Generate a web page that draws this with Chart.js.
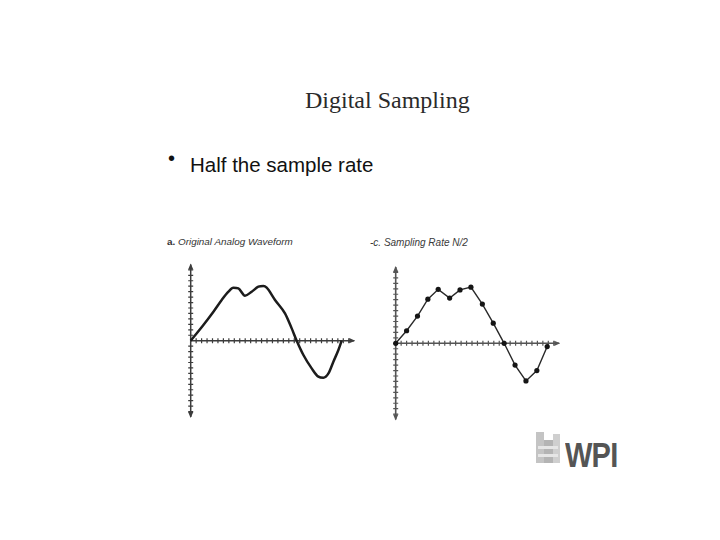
<!DOCTYPE html>
<html>
<head>
<meta charset="utf-8">
<script src="https://cdn.jsdelivr.net/npm/chart.js@4.4.1/dist/chart.umd.min.js"></script>
<style>
  html, body { margin:0; padding:0; background:#fff; }
  body { width:720px; height:540px; position:relative; overflow:hidden; }
  .t { position:absolute; white-space:nowrap; line-height:1; }
  canvas { position:absolute; }
</style>
</head>
<body>
<div class="t" style="left:305px;top:87px;font:24px 'Liberation Serif',serif;color:#2a2a2a;">Digital Sampling</div>
<div class="t" style="left:168px;top:147px;font:20px 'Liberation Sans',sans-serif;color:#111;">•</div>
<div class="t" style="left:190px;top:153px;font:20.5px 'Liberation Sans',sans-serif;color:#111;">Half the sample rate</div>
<div class="t" style="left:167px;top:236px;font:italic 9.9px 'Liberation Sans',sans-serif;color:#333;"><b style="font-style:normal">a.</b> Original Analog Waveform</div>
<div class="t" style="left:370px;top:237px;font:italic 10px 'Liberation Sans',sans-serif;color:#3a3a3a;">-c. Sampling Rate N/2</div>

<!-- WPI logo -->
<div style="position:absolute;left:536px;top:432px;width:8px;height:31px;background:#c4c4c4;"></div>
<div style="position:absolute;left:544px;top:440px;width:9px;height:23px;background:#b4b4b4;"></div>
<div style="position:absolute;left:553px;top:434px;width:7px;height:29px;background:#cfcfcf;"></div>
<div style="position:absolute;left:538px;top:446px;width:20px;height:3px;background:#e6e6e6;"></div>
<div style="position:absolute;left:538px;top:454px;width:20px;height:3px;background:#e6e6e6;"></div>
<div class="t" style="left:565px;top:435px;font:bold 35px 'Liberation Sans',sans-serif;color:#555;transform:scaleX(0.83);transform-origin:left top;letter-spacing:-1px;">WPI</div>

<canvas id="c1" width="195" height="180" style="left:175px;top:250px;"></canvas>
<canvas id="c2" width="195" height="180" style="left:380px;top:253px;"></canvas>

<script>
// ---- data (axis units: one tick = one unit) ----
const analogX = [0, 2.33, 4.17, 5.69, 6.92, 7.83, 8.75, 9.96, 11.19, 12.42, 13.34, 13.94, 15.47, 17.3, 18.53, 19.45, 20.68, 22.2, 23.43, 24.35, 25.27, 26.18, 27.1, 27.7];
const analogY = [0, 2.88, 5.32, 7.47, 8.99, 9.72, 9.6, 8.26, 8.99, 9.91, 10.04, 9.72, 7.47, 5.01, 2.26, 0, -2.62, -5.08, -6.6, -6.79, -6.0, -3.85, -1.71, 0];
const sampleX = [0, 2.0, 4.0, 5.9, 7.8, 9.9, 11.8, 13.8, 15.9, 17.9, 19.9, 21.9, 23.9, 25.9, 27.8];
const sampleY = [0, 2.3, 5.0, 8.1, 9.9, 8.3, 9.8, 10.3, 7.2, 3.7, 0, -4.0, -6.9, -5.0, -0.6];
const xRange = [0, 30];
const yRange = [-14, 14];

const axesPlugin = {
  id: 'crossAxes',
  beforeDatasetsDraw(chart, args, opts) {
    const ctx = chart.ctx;
    const xs = chart.scales.x, ys = chart.scales.y;
    const x0 = xs.getPixelForValue(0), y0 = ys.getPixelForValue(0);
    const xEnd = xs.getPixelForValue(xs.max);
    const yTop = ys.getPixelForValue(ys.max), yBot = ys.getPixelForValue(ys.min);
    ctx.save();
    ctx.strokeStyle = opts.color; ctx.fillStyle = opts.color;
    ctx.lineWidth = opts.width;
    ctx.beginPath();
    ctx.moveTo(x0, yTop); ctx.lineTo(x0, yBot);
    ctx.moveTo(x0, y0); ctx.lineTo(xEnd, y0);
    ctx.stroke();
    ctx.lineWidth = 1.2;
    ctx.beginPath();
    for (let v = xs.min + 1; v < xs.max; v++) {
      const p = xs.getPixelForValue(v);
      ctx.moveTo(p, y0 - 2.5); ctx.lineTo(p, y0 + 2.5);
    }
    for (let v = ys.min + 1; v < ys.max; v++) {
      if (v === 0) continue;
      const p = ys.getPixelForValue(v);
      ctx.moveTo(x0 - 2.5, p); ctx.lineTo(x0 + 2.5, p);
    }
    ctx.stroke();
    // arrowheads
    const a = 5, w = 2.6;
    ctx.beginPath();
    ctx.moveTo(x0, yTop - 1); ctx.lineTo(x0 - w, yTop + a); ctx.lineTo(x0 + w, yTop + a); ctx.closePath();
    ctx.moveTo(x0, yBot + 1); ctx.lineTo(x0 - w, yBot - a); ctx.lineTo(x0 + w, yBot - a); ctx.closePath();
    ctx.moveTo(xEnd + 1, y0); ctx.lineTo(xEnd - a, y0 - w); ctx.lineTo(xEnd - a, y0 + w); ctx.closePath();
    ctx.fill();
    ctx.restore();
  }
};

function makeChart(id, xsArr, ysArr, ds, pad, axisOpts) {
  const pts = xsArr.map((x, i) => ({ x: x, y: ysArr[i] }));
  return new Chart(document.getElementById(id), {
    type: 'line',
    data: { datasets: [Object.assign({ data: pts }, ds)] },
    options: {
      responsive: false,
      animation: false,
      devicePixelRatio: 1,
      layout: { padding: pad },
      plugins: { legend: { display: false }, tooltip: { enabled: false }, crossAxes: axisOpts },
      scales: {
        x: { type: 'linear', min: xRange[0], max: xRange[1], display: false },
        y: { type: 'linear', min: yRange[0], max: yRange[1], display: false }
      }
    },
    plugins: [axesPlugin]
  });
}

makeChart('c1', analogX, analogY, {
  borderColor: '#1c1c1c', borderWidth: 2.5, pointRadius: 0,
  cubicInterpolationMode: 'monotone', clip: 10
}, { left: 15.7, right: 15.8, top: 14.4, bottom: 13 }, { color: '#3c3c3c', width: 1.5 });

makeChart('c2', sampleX, sampleY, {
  borderColor: '#2a2a2a', borderWidth: 1.4, tension: 0,
  pointRadius: 2.6, pointBackgroundColor: '#151515', pointBorderColor: '#151515', pointBorderWidth: 0, clip: 10
}, { left: 15.7, right: 15.8, top: 14, bottom: 13.4 }, { color: '#555555', width: 1.6 });
</script>
</body>
</html>
